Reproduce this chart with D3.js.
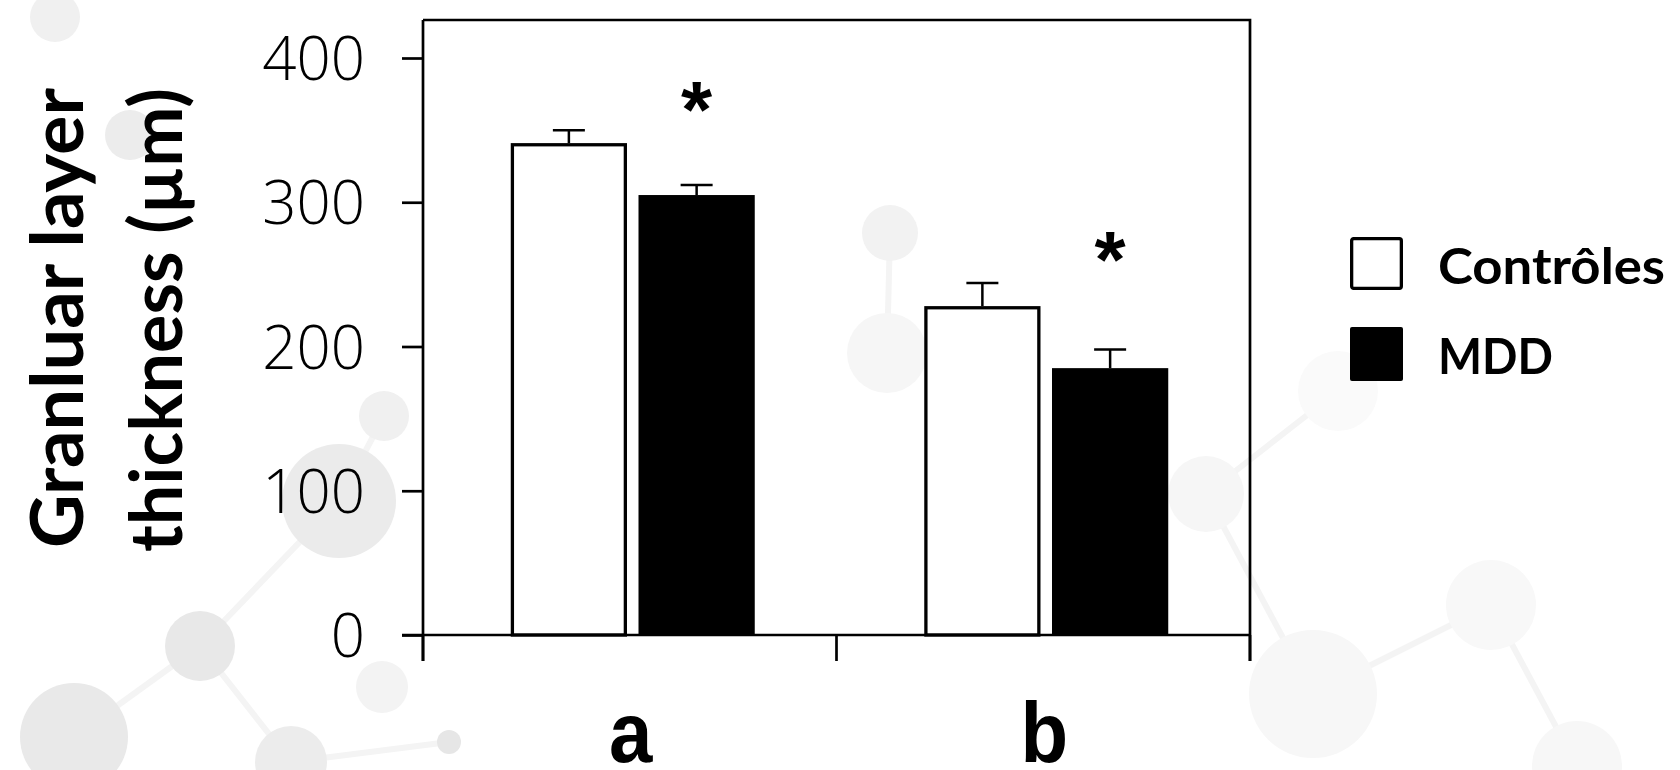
<!DOCTYPE html>
<html>
<head>
<meta charset="utf-8">
<script src="https://cdn.jsdelivr.net/npm/d3@7"></script>
<style>
  html, body { margin: 0; padding: 0; background: #ffffff; }
  svg { display: block; }
</style>
</head>
<body>
<svg id="chart" width="1680" height="770"></svg>
<script>
// ---- data ----
const groups = ["a", "b"];
const series = ["Contrôles", "MDD"];
const controlMeans = [341, 228];
const controlSem = [9, 16];
const mddMeans = [305, 185];
const mddSem = [7, 13];
const starLevels = [376, 272];   // height (µm) at which the significance mark sits
const yTicks = [0, 100, 200, 300, 400];
const yTitleLines = ["Granluar layer", "thickness (µm)"];

// faint molecule motif in the page background: [cx, cy, r, grey]
const bgNodes = [
  [55, 17, 25, "#f0f0f0"], [130, 135, 25, "#ececec"], [339, 501, 57, "#ebebeb"],
  [384, 416, 25, "#f0f0f0"], [200, 646, 35, "#e8e8e8"], [74, 737, 54, "#e9e9e9"],
  [291, 762, 36, "#ececec"], [449, 742, 12, "#e6e6e6"], [382, 687, 26, "#f3f3f3"],
  [890, 233, 28, "#f2f2f2"], [887, 353, 40, "#f6f6f6"],
  [1206, 494, 38, "#f6f6f6"], [1313, 694, 64, "#f7f7f7"], [1491, 605, 45, "#f8f8f8"],
  [1577, 766, 45, "#f7f7f7"], [1338, 391, 40, "#fafafa"]
];
const bgLinks = [[5, 4], [4, 2], [4, 6], [2, 3], [6, 7], [9, 10],
                 [11, 12], [12, 13], [13, 14], [15, 11]];

// ---- layout ----
const svg = d3.select("#chart");
const plot = { left: 423, right: 1250, top: 20, bottom: 635 };
const tickOut = 21;
const xTickDown = 26;

// background motif
const bg = svg.append("g").attr("class", "backdrop");
bg.selectAll("line").data(bgLinks).join("line")
  .attr("x1", d => bgNodes[d[0]][0]).attr("y1", d => bgNodes[d[0]][1])
  .attr("x2", d => bgNodes[d[1]][0]).attr("y2", d => bgNodes[d[1]][1])
  .attr("stroke", "#f4f4f4").attr("stroke-width", 6);
bg.selectAll("circle").data(bgNodes).join("circle")
  .attr("cx", d => d[0]).attr("cy", d => d[1]).attr("r", d => d[2])
  .attr("fill", d => d[3]);

// scales
const y = d3.scaleLinear().domain([0, 400]).range([plot.bottom, 58]);
const x0 = d3.scaleBand().domain(groups).range([plot.left, plot.right]).padding(0);
const pairWidth = 244;
const x1 = d3.scaleBand().domain(series).range([0, pairWidth]).paddingInner(0.09);
const pairOffset = (x0.bandwidth() - pairWidth) / 2 + 3;

const rows = groups.map((g, i) => ({
  group: g,
  values: [
    { key: series[0], mean: controlMeans[i], sem: controlSem[i] },
    { key: series[1], mean: mddMeans[i], sem: mddSem[i] }
  ],
  star: starLevels[i]
}));

const frameW = 2.7;

// frame: top and right edges, the right edge running down as the last x tick
svg.append("path")
  .attr("d", `M${plot.left},${plot.top}H${plot.right}V${plot.bottom + xTickDown}`)
  .attr("fill", "none").attr("stroke", "#000").attr("stroke-width", frameW);

// bars
const barG = svg.append("g");
rows.forEach(r => {
  const gx = x0(r.group) + pairOffset;
  r.values.forEach(v => {
    const bx = gx + x1(v.key);
    const bw = x1.bandwidth();
    if (v.key === series[0]) {
      const sw = 3.3;
      barG.append("rect")
        .attr("x", bx + sw / 2).attr("y", y(v.mean) + sw / 2)
        .attr("width", bw - sw).attr("height", y(0) - y(v.mean) - sw / 2)
        .attr("fill", "#fff").attr("stroke", "#000").attr("stroke-width", sw);
    } else {
      barG.append("rect")
        .attr("x", bx).attr("y", y(v.mean))
        .attr("width", bw).attr("height", y(0) - y(v.mean))
        .attr("fill", "#000");
    }
    // SEM whisker (upper only)
    const cx = bx + bw / 2;
    barG.append("line")
      .attr("x1", cx).attr("x2", cx)
      .attr("y1", y(v.mean)).attr("y2", y(v.mean + v.sem))
      .attr("stroke", "#000").attr("stroke-width", 2.5);
    barG.append("line")
      .attr("x1", cx - 16).attr("x2", cx + 16)
      .attr("y1", y(v.mean + v.sem)).attr("y2", y(v.mean + v.sem))
      .attr("stroke", "#000").attr("stroke-width", 2.5);
  });
  // significance mark over the MDD bar
  const mx = gx + x1(series[1]) + x1.bandwidth() / 2;
  svg.append("text")
    .attr("x", mx).attr("y", y(r.star) + 44)
    .attr("text-anchor", "middle")
    .attr("font-family", "Liberation Sans, Arial, sans-serif")
    .attr("font-weight", "bold")
    .attr("font-size", 80)
    .attr("fill", "#000")
    .text("*");
});

// y axis
const yAxis = d3.axisLeft(y).tickValues(yTicks).tickSize(tickOut).tickPadding(37);
const yG = svg.append("g").attr("transform", `translate(${plot.left},0)`).call(yAxis);
yG.select(".domain").remove();
yG.selectAll(".tick line").attr("stroke", "#000").attr("stroke-width", frameW);
yG.selectAll(".tick text")
  .attr("font-family", "Open Sans, DejaVu Sans, sans-serif")
  .attr("font-weight", 300)
  .attr("font-size", 60)
  .attr("fill", "#000")
  .attr("dy", "0.36em");
svg.append("line")
  .attr("x1", plot.left).attr("x2", plot.left)
  .attr("y1", plot.top).attr("y2", plot.bottom + xTickDown)
  .attr("stroke", "#000").attr("stroke-width", frameW);

// x axis: ticks sit on the group boundaries, labels at group centres
svg.append("line")
  .attr("x1", plot.left - tickOut).attr("x2", plot.right)
  .attr("y1", y(0)).attr("y2", y(0))
  .attr("stroke", "#000").attr("stroke-width", frameW);
const bounds = groups.map(g => x0(g)).concat([plot.right]);
svg.append("g").selectAll("line").data(bounds).join("line")
  .attr("x1", d => d).attr("x2", d => d)
  .attr("y1", y(0)).attr("y2", y(0) + xTickDown)
  .attr("stroke", "#000").attr("stroke-width", frameW);
svg.append("g").selectAll("text").data(groups).join("text")
  .attr("transform", d => `translate(${x0(d) + x0.bandwidth() / 2 + 1},762) scale(1,1.1)`)
  .attr("text-anchor", "middle")
  .attr("font-family", "Liberation Sans, Arial, sans-serif")
  .attr("font-weight", "bold")
  .attr("font-size", 78)
  .attr("fill", "#000")
  .text(d => d);

// y title (two rotated lines)
const titleBase = [[83, 318, 460], [182, 320, 464]];
yTitleLines.forEach((t, i) => {
  svg.append("text")
    .attr("transform", `translate(${titleBase[i][0]},${titleBase[i][1]}) rotate(-90)`)
    .attr("text-anchor", "middle")
    .attr("font-family", "Lato, Open Sans, sans-serif")
    .attr("font-weight", "bold")
    .attr("font-size", 72)
    .attr("textLength", titleBase[i][2])
    .attr("lengthAdjust", "spacingAndGlyphs")
    .attr("fill", "#000")
    .text(t);
});

// legend
const legend = svg.append("g").attr("transform", "translate(1350,237)");
const legendWidths = [227, 115];
series.forEach((s, i) => {
  const g = legend.append("g").attr("transform", `translate(0,${i * 90})`);
  if (i === 0) {
    g.append("rect").attr("x", 1.65).attr("y", 1.65).attr("width", 49.7).attr("height", 49.7)
      .attr("rx", 2).attr("fill", "#fff").attr("stroke", "#000").attr("stroke-width", 3.3);
  } else {
    g.append("rect").attr("x", 0).attr("y", 0).attr("width", 53).attr("height", 54)
      .attr("rx", 2).attr("fill", "#000");
  }
  g.append("text")
    .attr("x", 88).attr("y", 47)
    .attr("font-family", "Lato, Open Sans, sans-serif")
    .attr("font-weight", "bold")
    .attr("font-size", 50)
    .attr("textLength", legendWidths[i])
    .attr("lengthAdjust", "spacingAndGlyphs")
    .attr("fill", "#000")
    .text(s);
});
</script>
</body>
</html>
